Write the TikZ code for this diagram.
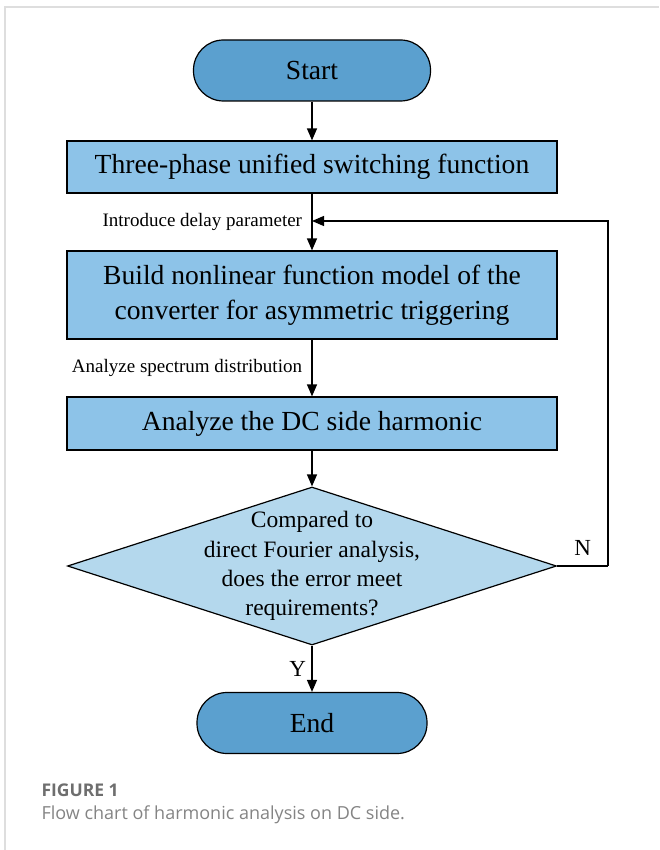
\documentclass[tikz,border=0pt]{standalone}
\usepackage{fontspec}
\setmainfont{Liberation Serif}
\newfontfamily\capfont{Open Sans}
\usetikzlibrary{shapes.geometric,arrows.meta,positioning}

\definecolor{termblue}{RGB}{91,160,207}
\definecolor{procblue}{RGB}{141,195,232}
\definecolor{askblue}{RGB}{180,216,237}
\definecolor{framegray}{RGB}{222,222,222}
\definecolor{capgray}{RGB}{110,110,110}

\def\midx{312}

\begin{document}
\begin{tikzpicture}[x=1pt, y=-1pt,
    nodes = {font=\fontsize{27.6}{35}\selectfont},
    term/.style = {draw, line width=1.2pt, fill=termblue, rounded corners=30pt,
                   minimum height=61pt, inner sep=0pt},
    proc/.style = {draw, line width=1.2pt, fill=procblue, minimum width=490pt,
                   inner sep=0pt, align=center},
    ask/.style  = {draw, line width=1.2pt, fill=askblue, diamond,
                   minimum width=489pt, minimum height=158pt, inner sep=0pt},
    note/.style = {font=\fontsize{19}{22}\selectfont},
    flow/.style = {line width=1.3pt, -{Triangle[length=12pt,width=10pt]}}]
  \useasboundingbox (0,0) rectangle (659,850);
  % frame round the figure
  \draw[framegray, line width=2pt] (5,850) -- (5,7) -- (659,7);

  % main column of the chart
  \node[term, minimum width=237pt] (start) at (\midx,70.5) {Start};
  \node[proc, minimum height=52pt] (fun) at (\midx,167)
    {Three-phase unified switching function};
  \node[proc, minimum height=88pt] (model) at (\midx,295)
    {Build nonlinear function model of the\\converter for asymmetric triggering};
  \node[proc, minimum height=53pt] (harm) at (\midx,423.5)
    {Analyze the DC side harmonic};
  \node[ask] (check) at (\midx,566) {};
  \node[align=center, font=\fontsize{23.5}{29.3}\selectfont] (asktext) at (check)
    {Compared to\\direct Fourier analysis,\\does the error meet\\requirements?};
  \node[term, minimum width=230pt] (stop) at (\midx,723) {End};

  % arrows down the column
  \draw[flow] (start) -- (fun);
  \draw[flow] (fun) -- node[note, midway, left=6pt] (delay) {Introduce delay parameter} (model);
  \draw[flow] (model) -- node[note, midway, left=6pt] (spec) {Analyze spectrum distribution} (harm);
  \draw[flow] (harm) -- (check);
  \draw[flow] (check) -- node[midway, left=2pt, font=\fontsize{23}{26}\selectfont] (yes) {Y} (stop);

  % loop back when the error is too large
  \coordinate (back) at (\midx,221);
  \coordinate (turn) at (608,566);
  \draw[line width=1.3pt] (check.east) -- node[midway, above=7pt, font=\fontsize{23}{26}\selectfont] (no) {N} (turn);
  \draw[flow] (turn) |- (back);

  % caption
  \node[anchor=west, font=\capfont\bfseries\fontsize{17.5}{20}\selectfont, text=capgray]
    (figno) at (38,790) {FIGURE 1};
  \node[anchor=west, font=\capfont\fontsize{18}{21}\selectfont, text=capgray!85]
    (figtext) at (38,815) {Flow chart of harmonic analysis on DC side.};
\end{tikzpicture}
\end{document}
